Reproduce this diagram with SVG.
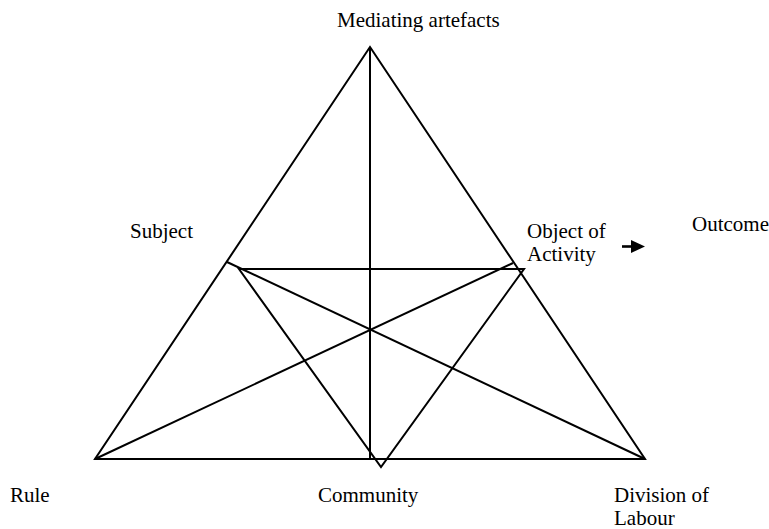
<svg xmlns="http://www.w3.org/2000/svg" width="769" height="529" viewBox="0 0 769 529">
<style>
.l{stroke:#000;stroke-width:2;fill:none;stroke-linejoin:miter}
.t{font-family:"Liberation Serif","Times New Roman",serif;font-size:21px;fill:#000}
</style>
<rect width="769" height="529" fill="#fff"/>
<g id="connectors">
<polygon class="l" points="370,47 95,459 645,459"/>
<line class="l" x1="370" y1="47" x2="370" y2="459"/>
<line class="l" x1="227" y1="262" x2="645" y2="459"/>
<line class="l" x1="95" y1="459" x2="513" y2="263"/>
<polygon class="l" points="239,269 524,269 381,467"/>
<line x1="622" y1="246.5" x2="633" y2="246.5" stroke="#000" stroke-width="2.6"/>
<polygon points="631,240 645,246.5 631,253" fill="#000"/>
</g>
<g id="mediating"><text class="t" x="337" y="27">Mediating artefacts</text></g>
<g id="subject"><text class="t" x="130" y="238">Subject</text></g>
<g id="object"><text class="t" x="527" y="238">Object of</text><text class="t" x="527" y="261">Activity</text></g>
<g id="outcome"><text class="t" x="692" y="231">Outcome</text></g>
<g id="rule"><text class="t" x="10" y="502">Rule</text></g>
<g id="community"><text class="t" x="318" y="502">Community</text></g>
<g id="division"><text class="t" x="614" y="502">Division of</text><text class="t" x="614" y="525">Labour</text></g>
</svg>
